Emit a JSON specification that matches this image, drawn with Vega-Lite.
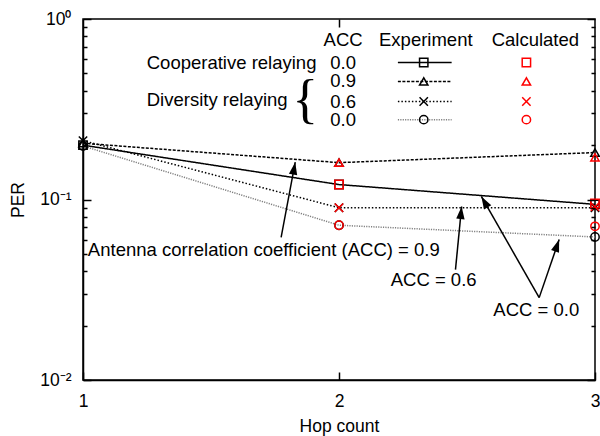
{
  "$schema": "https://vega.github.io/schema/vega-lite/v6.json",
  "width": 512,
  "height": 361,
  "autosize": {"type": "none"},
  "padding": {"left": 83, "top": 19, "right": 5, "bottom": 56},
  "background": "white",
  "config": {
    "font": "Liberation Sans",
    "view": {"stroke": "black", "strokeWidth": 1.5},
    "axis": {
      "labelColor": "black",
      "labelFont": "Liberation Sans",
      "labelFontSize": 17.5,
      "labelOverlap": false,
      "titleFont": "Liberation Sans",
      "titleFontSize": 17.5,
      "titleFontWeight": "normal",
      "titleColor": "black"
    }
  },
  "datasets": {
    "experiment": [
      {"hop": 1, "per": 0.200, "series": "Cooperative 0.0"},
      {"hop": 2, "per": 0.121, "series": "Cooperative 0.0"},
      {"hop": 3, "per": 0.094, "series": "Cooperative 0.0"},
      {"hop": 1, "per": 0.205, "series": "Diversity 0.9"},
      {"hop": 2, "per": 0.160, "series": "Diversity 0.9"},
      {"hop": 3, "per": 0.182, "series": "Diversity 0.9"},
      {"hop": 1, "per": 0.212, "series": "Diversity 0.6"},
      {"hop": 2, "per": 0.090, "series": "Diversity 0.6"},
      {"hop": 3, "per": 0.090, "series": "Diversity 0.6"},
      {"hop": 1, "per": 0.198, "series": "Diversity 0.0"},
      {"hop": 2, "per": 0.072, "series": "Diversity 0.0"},
      {"hop": 3, "per": 0.062, "series": "Diversity 0.0"}
    ],
    "calculated": [
      {"hop": 2, "per": 0.121, "series": "Cooperative 0.0"},
      {"hop": 3, "per": 0.095, "series": "Cooperative 0.0"},
      {"hop": 2, "per": 0.160, "series": "Diversity 0.9"},
      {"hop": 3, "per": 0.171, "series": "Diversity 0.9"},
      {"hop": 2, "per": 0.090, "series": "Diversity 0.6"},
      {"hop": 3, "per": 0.091, "series": "Diversity 0.6"},
      {"hop": 2, "per": 0.072, "series": "Diversity 0.0"},
      {"hop": 3, "per": 0.071, "series": "Diversity 0.0"}
    ],
    "legendRows": [
      {"series": "Cooperative 0.0", "y": 0.574, "xLineStart": 2.230, "xLineEnd": 2.440, "xExp": 2.331, "xCalc": 2.732},
      {"series": "Diversity 0.9", "y": 0.451, "xLineStart": 2.230, "xLineEnd": 2.440, "xExp": 2.331, "xCalc": 2.732},
      {"series": "Diversity 0.6", "y": 0.349, "xLineStart": 2.230, "xLineEnd": 2.440, "xExp": 2.331, "xCalc": 2.732},
      {"series": "Diversity 0.0", "y": 0.277, "xLineStart": 2.230, "xLineEnd": 2.440, "xExp": 2.331, "xCalc": 2.732}
    ],
    "labelsLeft": [
      {"x": 1.249, "y": 0.574, "text": "Cooperative relaying"},
      {"x": 1.249, "y": 0.358, "text": "Diversity relaying"},
      {"x": 1.019, "y": 0.0528, "text": "Antenna correlation coefficient (ACC) = 0.9"},
      {"x": 2.202, "y": 0.0356, "text": "ACC = 0.6"},
      {"x": 2.603, "y": 0.0243, "text": "ACC = 0.0"}
    ],
    "labelsCenter": [
      {"x": 2.016, "y": 0.769, "text": "ACC"},
      {"x": 2.339, "y": 0.769, "text": "Experiment"},
      {"x": 2.767, "y": 0.769, "text": "Calculated"},
      {"x": 2.016, "y": 0.574, "text": "0.0"},
      {"x": 2.016, "y": 0.451, "text": "0.9"},
      {"x": 2.016, "y": 0.349, "text": "0.6"},
      {"x": 2.016, "y": 0.277, "text": "0.0"}
    ],
    "brace": [
      {"x": 1.868, "y": 0.352, "text": "{"}
    ],
    "arrows": [
      {"x": 1.774, "y": 0.0616, "xTip": 1.829, "yTip": 0.161, "angle": 10},
      {"x": 2.455, "y": 0.0409, "xTip": 2.479, "yTip": 0.0915, "angle": 5.5},
      {"x": 2.782, "y": 0.0286, "xTip": 2.556, "yTip": 0.104, "angle": -30},
      {"x": 2.782, "y": 0.0286, "xTip": 2.860, "yTip": 0.060, "angle": 19}
    ]
  },
  "resolve": {"axis": {"x": "independent", "y": "independent"}},
  "layer": [
    {
      "data": {"name": "experiment"},
      "mark": {"type": "line", "strokeWidth": 1.5},
      "encoding": {
        "x": {
          "field": "hop", "type": "quantitative",
          "scale": {"domain": [1, 3], "nice": false, "zero": false},
          "axis": {
            "orient": "bottom", "values": [1, 2, 3],
            "labelExpr": "datum.value",
            "title": "Hop count", "labelFlush": false, "grid": false,
            "ticks": true, "tickColor": "black", "tickWidth": 1.5, "tickSize": -8,
            "domain": true, "domainColor": "black", "domainWidth": 1.5,
            "labelPadding": 20, "titlePadding": 8, "zindex": 1
          }
        },
        "y": {
          "field": "per", "type": "quantitative",
          "scale": {"type": "log", "domain": [0.01, 1], "nice": false},
          "axis": {
            "orient": "left", "title": "PER", "labelFlush": false, "grid": false,
            "values": [0.01, 0.1, 1],
            "labelExpr": "datum.value == 1 ? '10⁰' : datum.value == 0.1 ? '10⁻¹' : '10⁻²'",
            "ticks": true, "tickColor": "black", "tickWidth": 1.5, "tickSize": -8,
            "domain": true, "domainColor": "black", "domainWidth": 1.5,
            "labelPadding": 20, "titlePadding": 12, "zindex": 1
          }
        },
        "color": {
          "field": "series", "type": "nominal", "legend": null,
          "scale": {"domain": ["Cooperative 0.0", "Diversity 0.9", "Diversity 0.6", "Diversity 0.0"], "range": ["#000000", "#000000", "#000000", "#808080"]}
        },
        "strokeDash": {
          "field": "series", "type": "nominal", "legend": null,
          "scale": {"domain": ["Cooperative 0.0", "Diversity 0.9", "Diversity 0.6", "Diversity 0.0"], "range": [[1, 0], [3, 1.5], [1.5, 2], [1.2, 1.2]]}
        }
      }
    },
    {
      "data": {"name": "experiment"},
      "mark": {"type": "point", "filled": false, "stroke": "black", "strokeWidth": 1.5, "size": 70, "opacity": 1},
      "encoding": {
        "x": {
          "field": "hop", "type": "quantitative",
          "axis": {"orient": "top", "values": [2], "labels": false, "title": null, "grid": false, "domain": false,
                   "ticks": true, "tickColor": "black", "tickWidth": 1.5, "tickSize": -8, "zindex": 1}
        },
        "y": {
          "field": "per", "type": "quantitative",
          "axis": {
            "orient": "left", "labels": false, "title": null, "domain": false, "grid": false,
            "values": [0.02, 0.03, 0.04, 0.05, 0.06, 0.07, 0.08, 0.09, 0.2, 0.3, 0.4, 0.5, 0.6, 0.7, 0.8, 0.9],
            "ticks": true, "tickColor": "black", "tickWidth": 1.5, "tickSize": -4, "zindex": 1
          }
        },
        "shape": {
          "field": "series", "type": "nominal", "legend": null,
          "scale": {"domain": ["Cooperative 0.0", "Diversity 0.9", "Diversity 0.6", "Diversity 0.0"], "range": ["square", "triangle-up", "M-1,-1L1,1M1,-1L-1,1", "circle"]}
        }
      }
    },
    {
      "data": {"name": "calculated"},
      "mark": {"type": "point", "filled": false, "stroke": "#ff0000", "strokeWidth": 1.5, "size": 70, "opacity": 1},
      "encoding": {
        "x": {"field": "hop", "type": "quantitative", "axis": null},
        "y": {
          "field": "per", "type": "quantitative",
          "axis": {
            "orient": "right", "labels": false, "title": null, "grid": false, "domain": false,
            "values": [0.01, 0.1, 1],
            "ticks": true, "tickColor": "black", "tickWidth": 1.5, "tickSize": -8, "zindex": 1
          }
        },
        "shape": {"field": "series", "type": "nominal", "legend": null}
      }
    },
    {
      "data": {"name": "legendRows"},
      "mark": {"type": "rule", "strokeWidth": 1.5},
      "encoding": {
        "x": {"field": "xLineStart", "type": "quantitative", "axis": null},
        "x2": {"field": "xLineEnd"},
        "y": {
          "field": "y", "type": "quantitative",
          "axis": {
            "orient": "right", "labels": false, "title": null, "domain": false, "grid": false,
            "values": [0.02, 0.03, 0.04, 0.05, 0.06, 0.07, 0.08, 0.09, 0.2, 0.3, 0.4, 0.5, 0.6, 0.7, 0.8, 0.9],
            "ticks": true, "tickColor": "black", "tickWidth": 1.5, "tickSize": -4, "zindex": 1
          }
        },
        "color": {"field": "series", "type": "nominal", "legend": null},
        "strokeDash": {"field": "series", "type": "nominal", "legend": null}
      }
    },
    {
      "data": {"name": "legendRows"},
      "mark": {"type": "point", "filled": false, "stroke": "black", "strokeWidth": 1.5, "size": 70, "opacity": 1},
      "encoding": {
        "x": {"field": "xExp", "type": "quantitative", "axis": null},
        "y": {"field": "y", "type": "quantitative", "axis": null},
        "shape": {"field": "series", "type": "nominal", "legend": null}
      }
    },
    {
      "data": {"name": "legendRows"},
      "mark": {"type": "point", "filled": false, "stroke": "#ff0000", "strokeWidth": 1.5, "size": 70, "opacity": 1},
      "encoding": {
        "x": {"field": "xCalc", "type": "quantitative", "axis": null},
        "y": {"field": "y", "type": "quantitative", "axis": null},
        "shape": {"field": "series", "type": "nominal", "legend": null}
      }
    },
    {
      "data": {"name": "labelsLeft"},
      "mark": {"type": "text", "align": "left", "baseline": "middle", "fontSize": 18.5, "font": "Liberation Sans", "color": "black"},
      "encoding": {
        "x": {"field": "x", "type": "quantitative", "axis": null},
        "y": {"field": "y", "type": "quantitative", "axis": null},
        "text": {"field": "text"}
      }
    },
    {
      "data": {"name": "labelsCenter"},
      "mark": {"type": "text", "align": "center", "baseline": "middle", "fontSize": 18.5, "font": "Liberation Sans", "color": "black"},
      "encoding": {
        "x": {"field": "x", "type": "quantitative", "axis": null},
        "y": {"field": "y", "type": "quantitative", "axis": null},
        "text": {"field": "text"}
      }
    },
    {
      "data": {"name": "brace"},
      "mark": {"type": "text", "align": "center", "baseline": "middle", "fontSize": 54, "font": "Liberation Serif", "color": "black"},
      "encoding": {
        "x": {"field": "x", "type": "quantitative", "axis": null},
        "y": {"field": "y", "type": "quantitative", "axis": null},
        "text": {"field": "text"}
      }
    },
    {
      "data": {"name": "arrows"},
      "mark": {"type": "rule", "strokeWidth": 1.5, "color": "black"},
      "encoding": {
        "x": {"field": "x", "type": "quantitative", "axis": null},
        "y": {"field": "y", "type": "quantitative", "axis": null},
        "x2": {"field": "xTip"},
        "y2": {"field": "yTip"}
      }
    },
    {
      "data": {"name": "arrows"},
      "mark": {"type": "point", "shape": "M0,0L0.7,2.1L-0.7,2.1Z", "filled": true, "color": "black", "size": 144, "opacity": 1},
      "encoding": {
        "x": {"field": "xTip", "type": "quantitative", "axis": null},
        "y": {"field": "yTip", "type": "quantitative", "axis": null},
        "angle": {"field": "angle", "type": "quantitative", "scale": null}
      }
    }
  ]
}
